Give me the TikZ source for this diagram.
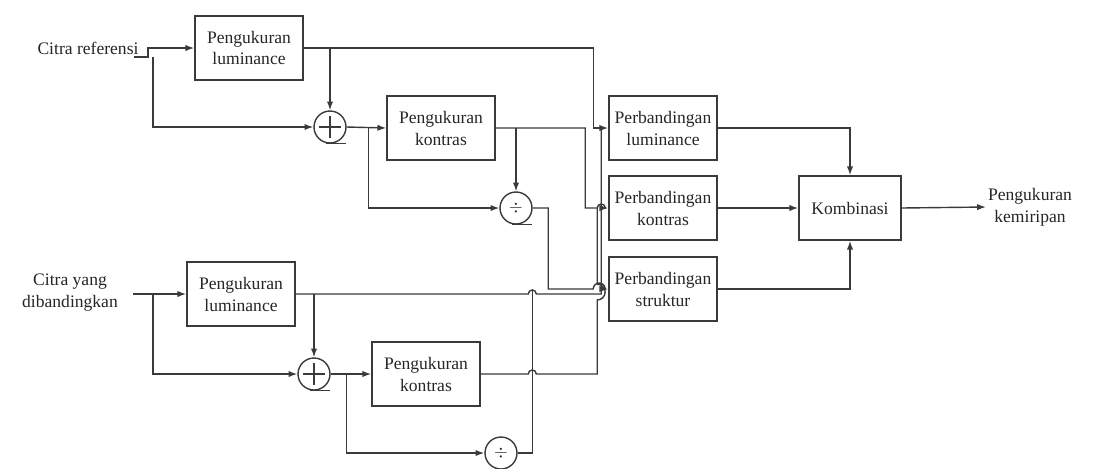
\documentclass[tikz,border=0pt]{standalone}
\usepackage{fontspec}
\setmainfont{Liberation Serif}
\usetikzlibrary{positioning, calc, arrows.meta}
\definecolor{ink}{HTML}{262626}
\definecolor{wirec}{HTML}{3A3A3A}
\newcommand{\BlockF}{\fontsize{10}{12.5}\selectfont}

\begin{document}
\begin{tikzpicture}[x=0.02cm, y=-0.02cm, >={Latex[length=5pt,width=3.6pt]},
  blok/.style={draw=wirec, line width=0.9pt, minimum width=2.16cm, minimum height=1.28cm,
    inner sep=1pt, align=center, text=ink, font=\BlockF},
  lbl/.style={text=ink, font=\BlockF, align=center, inner sep=1pt},
  sum/.style={draw=wirec, line width=0.8pt, circle, minimum size=0.64cm, inner sep=0pt, text=ink},
  plus/.style={sum, path picture={
    \draw[wirec, line width=0.6pt]
      ($(path picture bounding box.center)+(-6pt,0)$) -- ($(path picture bounding box.center)+(6pt,0)$)
      ($(path picture bounding box.center)+(0,-6pt)$) -- ($(path picture bounding box.center)+(0,6pt)$);}},
  wire/.style={draw=wirec, line width=0.8pt}]
  \path[use as bounding box, fill=white] (0,0) rectangle (1105,468);

  \node[lbl] (ref) at (88,48) {Citra referensi};
  \node[blok] (lum1) at (249,48) {Pengukuran\\luminance};
  \node[plus] (add1) at (330,127) {};
  \node[blok] (kon1) at (441,128) {Pengukuran\\kontras};
  \node[sum] (div1) at (516,208) {$\div$};

  \node[lbl] (cmp) at (70,293) {Citra yang\\dibandingkan};
  \node[blok] (lum2) at (241,294) {Pengukuran\\luminance};
  \node[plus] (add2) at (314,374) {};
  \node[blok] (kon2) at (426,374) {Pengukuran\\kontras};
  \node[sum] (div2) at (501,453) {$\div$};

  \node[blok] (pbl) at (663,128) {Perbandingan\\luminance};
  \node[blok] (pbk) at (663,208) {Perbandingan\\kontras};
  \node[blok] (pbs) at (663,289) {Perbandingan\\struktur};
  \node[blok, minimum width=2.04cm] (komb) at (850,208) {Kombinasi};
  \node[lbl] (hasil) at (1030,207) {Pengukuran\\kemiripan};

  \foreach \s in {add1,add2,div1,div2}
    \draw[wire] ($(\s.south)+(-4,0)$) -- ++(20,0);

  \coordinate (in1) at (134,57);
  \coordinate (sp1) at (153,57);
  \draw[wire,->] (in1) -- ($(in1)+(14,0)$) |- (lum1.west);
  \draw[wire,->] (sp1) |- (add1.west);
  \draw[wire,->] (lum1.east -| add1.north) -- (add1.north);
  \draw[wire,->] (lum1.east) -| ($(pbl.west)+(-15,0)$) -- (pbl.west);
  \draw[wire,->] (add1.east) -- (kon1.west);
  \draw[wire,->] ($(add1.east)+(22,0)$) |- (div1.west);
  \draw[wire,->] (kon1.east -| div1.north) -- (div1.north);
  \draw[wire,->] (kon1.east) -| ($(pbk.west)+(-23,0)$) -- ($(pbk.west)+(-11,0)$)
    arc[start angle=180, end angle=0, radius=2.3pt] -- (pbk.west);
  \draw[wire,->] (div1.east) -| ($(pbs.west)+(-60,0)$) -- ($(pbs.west)+(-15,0)$)
    arc[start angle=180, end angle=0, radius=3.4pt] -- (pbs.west);

  \coordinate (in2) at (133,294);
  \coordinate (sp2) at (153,294);
  \draw[wire,->] (in2) -- (lum2.west);
  \draw[wire,->] (sp2) |- (add2.west);
  \draw[wire,->] (lum2.east -| add2.north) -- (add2.north);
  \draw[wire,->] (add2.east) -- (kon2.west);
  \draw[wire,->] ($(add2.east)+(16,0)$) |- (div2.west);
  \draw[wire] (div2.east) -| ($(pbs.west)+(-76,0)$);
  \draw[wire] (lum2.east) -- ($(lum2.east -| pbs.west)+(-80,0)$)
    arc[start angle=180, end angle=0, radius=2.3pt] -- ($(lum2.east -| pbs.west)+(-7,0)$)
    |- ($(pbl.west)+(-7,0)$);
  \draw[wire] (kon2.east) -- ($(kon2.east -| pbs.west)+(-80,0)$)
    arc[start angle=180, end angle=0, radius=2.3pt] -- ($(kon2.east -| pbs.west)+(-11,0)$)
    -- ($(pbs.west)+(-11,11)$) arc[start angle=-90, end angle=90, radius=4.5pt]
    |- ($(pbk.west)+(-11,0)$);

  \draw[wire,->] (pbl.east) -| (komb.north);
  \draw[wire,->] (pbk.east) -- (komb.west);
  \draw[wire,->] (pbs.east) -| (komb.south);
  \draw[wire,->] (komb.east) -- (hasil.west);
\end{tikzpicture}
\end{document}
